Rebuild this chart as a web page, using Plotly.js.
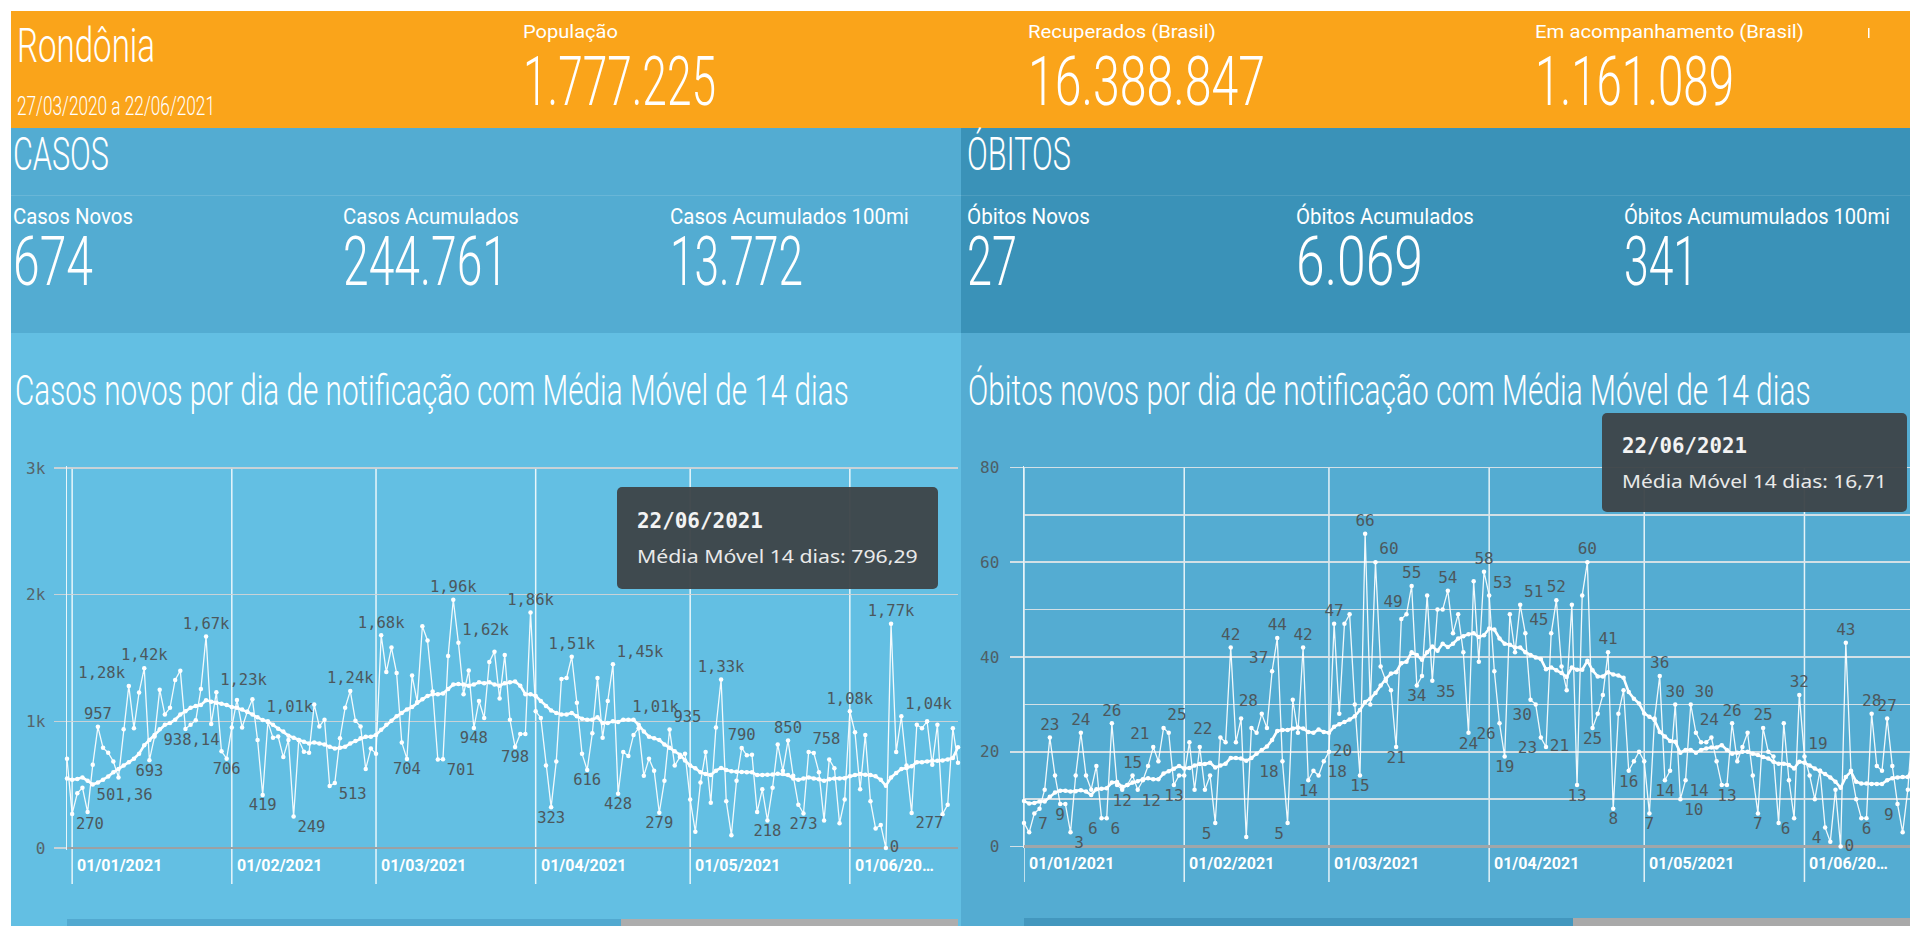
<!DOCTYPE html>
<html>
<head>
<meta charset="utf-8">
<script src="https://cdn.plot.ly/plotly-3.0.1.min.js"></script>
<style>
html,body{margin:0;padding:0;background:#ffffff;width:1910px;height:926px;overflow:hidden;position:relative;}
#bg,#ov{position:absolute;left:0;top:0;}
#bg{z-index:0;}
#ov{z-index:3;pointer-events:none;}
#casos{position:absolute;left:11px;top:333px;width:950px;height:593px;z-index:1;}
#obitos{position:absolute;left:961px;top:333px;width:949px;height:593px;z-index:1;overflow:hidden;}
</style>
</head>
<body>
<svg id="bg" width="1910" height="926"></svg>
<div id="casos"></div>
<div id="obitos"></div>
<svg id="ov" width="1910" height="926"></svg>
<script>
// ---------------- DATA ----------------
const regiao = 'Rondônia';
const periodo = '27/03/2020 a 22/06/2021';
const kpiTopoRotulos = ['População', 'Recuperados (Brasil)', 'Em acompanhamento (Brasil)'];
const kpiTopoValores = ['1.777.225', '16.388.847', '1.161.089'];
const kpiCasosRotulos = ['Casos Novos', 'Casos Acumulados', 'Casos Acumulados 100mi'];
const kpiCasosValores = ['674', '244.761', '13.772'];
const kpiObitosRotulos = ['Óbitos Novos', 'Óbitos Acumulados', 'Óbitos Acumumulados 100mi'];
const kpiObitosValores = ['27', '6.069', '341'];
const tituloCasos = 'Casos novos por dia de notificação com Média Móvel de 14 dias';
const tituloObitos = 'Óbitos novos por dia de notificação com Média Móvel de 14 dias';
const rotuloMedia = 'Média Móvel 14 dias';

const monthTicks = ['2021-01-01', '2021-02-01', '2021-03-01', '2021-04-01', '2021-05-01', '2021-06-01'];
const monthTickLabels = ['01/01/2021', '01/02/2021', '01/03/2021', '01/04/2021', '01/05/2021', '01/06/20…'];

const casosTickVals = [0, 1000, 2000, 3000];
const casosTickText = ['0', '1k', '2k', '3k'];

// Casos: daily values from 31/12/2020 to 22/06/2021
const casosInicio = '2020-12-31';
const casosNovos = [
  705, 270, 432, 477, 284, 657, 957, 791, 753, 684,
  558, 938, 1280, 946, 1228, 1420, 693, 880, 1250, 1054,
  1107, 1327, 1400, 940, 973, 1008, 1255, 1670, 979, 1230,
  764, 706, 952, 1169, 952, 1075, 1174, 853, 419, 995,
  870, 880, 718, 853, 249, 853, 760, 753, 1134, 960,
  1013, 490, 513, 866, 1107, 1240, 1005, 960, 625, 785,
  745, 1680, 1389, 1582, 1381, 834, 704, 1362, 1153, 1751,
  1638, 1236, 700, 701, 1515, 1960, 1620, 1214, 1402, 948,
  1161, 1027, 1469, 1550, 1180, 1523, 1013, 798, 901, 901,
  1860, 1080, 1027, 651, 323, 684, 1335, 1343, 1510, 1147,
  745, 616, 906, 1343, 871, 1161, 1450, 428, 759, 727,
  893, 946, 571, 705, 611, 279, 531, 935, 651, 718,
  745, 383, 129, 517, 759, 357, 952, 1330, 370, 102,
  531, 790, 732, 737, 284, 464, 218, 477, 818, 611,
  850, 571, 343, 273, 758, 751, 598, 217, 700, 630,
  196, 383, 1080, 914, 464, 893, 370, 155, 182, 0,
  1770, 759, 1040, 651, 277, 973, 946, 1000, 657, 973,
  268, 343, 946, 674
];
const casosMedia = [
  550, 539, 545, 558, 531, 501.36, 517, 539, 565, 598,
  625, 651, 678, 705, 745, 812, 853, 893, 938.14, 973,
  987, 1013, 1054, 1080, 1107, 1121, 1129, 1166, 1155, 1147,
  1139, 1129, 1113, 1107, 1094, 1075, 1054, 1032, 1010, 1000,
  973, 941, 920, 887, 871, 853, 839, 826, 834, 826,
  818, 799, 786, 791, 799, 826, 845, 866, 879, 879,
  893, 933, 973, 1005, 1040, 1067, 1094, 1113, 1147, 1174,
  1201, 1214, 1214, 1220, 1255, 1290, 1295, 1290, 1282, 1290,
  1308, 1300, 1308, 1290, 1282, 1300, 1308, 1314, 1282, 1214,
  1214, 1201, 1161, 1121, 1086, 1067, 1054, 1054, 1067, 1040,
  1021, 1013, 1013, 1032, 987, 987, 1000, 995, 1013, 1012,
  1013, 973, 920, 879, 866, 853, 818, 791, 764, 737,
  692, 651, 630, 598, 584, 576, 611, 633, 617, 606,
  603, 600, 598, 598, 576, 576, 579, 581, 587, 584,
  576, 550, 539, 550, 558, 550, 544, 531, 544, 550,
  550, 552, 566, 576, 584, 579, 576, 566, 539, 491,
  558, 592, 625, 633, 646, 678, 678, 684, 689, 689,
  692, 700, 710, 796.29
];
const casosRotuloIdx = [1, 6, 12, 15, 16, 27, 29, 31, 38, 44, 52, 55, 61, 66, 73, 75, 76, 79, 87, 90, 94, 98, 101, 106, 107, 115, 117, 127, 131, 136, 140, 143, 144, 152, 159, 160, 162, 164];
const casosMediaRotuloIdx = [5, 18, 38, 109];

// Óbitos: daily values from 01/01/2021 to 22/06/2021
const obitosInicio = '2021-01-01';
const obitosNovos = [
  5, 3, 7, 8, 12, 23, 15, 9, 9, 3,
  15, 24, 15, 12, 17, 6, 6, 26, 13, 12,
  13, 15, 12, 14, 17, 21, 18, 25, 24, 13,
  15, 15, 22, 12, 21, 12, 15, 5, 23, 22,
  42, 22, 27, 2, 25, 24, 28, 25, 37, 44,
  18, 5, 31, 24, 42, 14, 16, 15, 18, 20,
  47, 28, 47, 49, 30, 15, 66, 30, 60, 38,
  35, 33, 21, 48, 49, 55, 34, 36, 53, 35,
  50, 50, 54, 45, 49, 41, 24, 56, 39, 58,
  53, 37, 26, 19, 49, 41, 51, 45, 31, 30,
  23, 21, 45, 52, 38, 33, 51, 13, 53, 60,
  25, 28, 32, 41, 8, 28, 33, 16, 18, 20,
  18, 7, 27, 36, 14, 16, 30, 10, 14, 30,
  24, 22, 22, 23, 18, 13, 13, 26, 18, 21,
  24, 15, 7, 25, 20, 19, 5, 26, 14, 6,
  32, 19, 15, 10, 16, 4, 1, 12, 0, 43,
  16, 10, 6, 6, 28, 17, 16, 27, 17, 9,
  3, 12, 27
];
const obitosMedia = [
  9.6, 9.1, 9.2, 9.5, 9.5, 10.5, 11.4, 11.8, 11.8, 11.6,
  11.7, 11.9, 11.6, 10.9, 12.1, 12.2, 12.3, 13.5, 13.6, 12.6,
  13, 13.5, 13.8, 14.2, 14.4, 14.2, 14.2, 15.4, 15.9, 16.4,
  17, 16.5, 16.6, 17.1, 17.4, 17.4, 17.7, 16.7, 17.1, 17.5,
  18.7, 18.7, 18.6, 18.1, 18.7, 19.6, 20.4, 21.1, 22.5, 24.4,
  24.6, 24.6, 24.9, 25.1, 24.9, 24.2, 24, 24.7, 24.2, 24,
  25.3, 25.8, 26.3, 26.8, 27.5, 28.8, 30.5, 31.2, 32.4, 34,
  35.4, 36.5, 36.8, 38.7, 39, 41, 40.4, 39.4, 41, 42.2,
  41.3, 42.8, 42.1, 42.8, 43.9, 44.4, 44.8, 45, 44.2, 44.6,
  46, 45.8, 43.9, 42.8, 42.6, 42, 42, 41, 40.4, 39.9,
  39.6, 37.4, 37.8, 37.2, 36.6, 35.8, 37.8, 37.3, 37.3, 39.2,
  37.2, 35.9, 35.9, 36.8, 36.3, 36.1, 35.6, 32.6, 31.2, 30.2,
  28.1, 27.4, 26.7, 24.2, 23.2, 22.3, 22.1, 19.8, 20.4, 20.4,
  19.8, 20.4, 20.7, 20.9, 20.9, 21.4, 20.4, 19.6, 19.8, 20,
  20, 19.6, 19.3, 18.9, 18.6, 17.9, 17.5, 17.5, 17.2, 16.5,
  17.9, 17.7, 17.1, 16.5, 16, 15.3, 14.6, 13.7, 12.4, 14.7,
  15.8, 13.7, 13.3, 13.3, 13.2, 13.2, 13.2, 14, 14.4, 14.6,
  14.7, 14.7, 16.71
];
const obitosRotuloIdx = [2, 5, 7, 9, 11, 15, 16, 17, 19, 21, 22, 25, 27, 29, 32, 37, 40, 46, 48, 49, 50, 51, 54, 55, 58, 59, 60, 65, 66, 68, 72, 74, 75, 76, 79, 82, 86, 89, 90, 92, 93, 96, 97, 99, 100, 101, 103, 107, 109, 110, 113, 114, 117, 121, 123, 124, 126, 127, 128, 129, 130, 136, 137, 142, 143, 149, 150, 151, 155, 158, 159, 163, 164, 167, 169];

// label placement (style): overrides of the default above/below choice
const casosRotuloLado = {1: 'bottom right', 12: 'top left', 29: 'top right', 44: 'bottom right', 52: 'bottom right',
  73: 'bottom right', 76: 'top right', 106: 'top right', 117: 'top right', 144: 'top right', 159: 'middle right',
  162: 'top right', 164: 'bottom right'};
const obitosRotuloLado = {2: 'bottom right', 9: 'bottom right', 15: 'bottom left', 16: 'bottom right', 22: 'bottom right',
  25: 'top left', 27: 'top right', 32: 'top right', 37: 'bottom left', 46: 'top left', 48: 'top left', 50: 'bottom left',
  51: 'bottom left', 58: 'bottom right', 59: 'middle right', 68: 'top right', 74: 'top left', 79: 'bottom right',
  90: 'top right', 92: 'bottom left', 96: 'top right', 97: 'top right', 99: 'bottom left', 100: 'bottom left',
  101: 'middle right', 127: 'bottom right', 128: 'bottom right', 129: 'top right', 130: 'top right', 149: 'bottom left',
  151: 'top right', 155: 'bottom left', 158: 'middle right', 169: 'bottom left'};

// ---------------- HELPERS ----------------
function dayList(start, n) {
  const t0 = Date.parse(start + 'T00:00:00Z');
  const out = [];
  for (let i = 0; i < n; i++) out.push(new Date(t0 + i * 86400000).toISOString().slice(0, 10));
  return out;
}
function fmt(v) {
  if (v >= 1000) return (v / 1000).toFixed(2).replace('.', ',') + 'k';
  if (Number.isInteger(v)) return String(v);
  return v.toFixed(2).replace('.', ',');
}
function fmtDate(iso) {
  const p = iso.split('-');
  return p[2] + '/' + p[1] + '/' + p[0];
}
const NS = 'http://www.w3.org/2000/svg';
function el(svg, tag, attrs) {
  const e = document.createElementNS(NS, tag);
  for (const k in attrs) e.setAttribute(k, attrs[k]);
  svg.appendChild(e);
  return e;
}
// text squeezed horizontally (condensed look) to a target width with a transform
function txt(svg, str, x, y, size, width, opts) {
  opts = opts || {};
  const t = el(svg, 'text', {
    x: 0, y: 0, 'font-size': size,
    'font-family': opts.family || 'Roboto',
    'font-weight': opts.weight || 300,
    fill: opts.fill || '#ffffff'
  });
  t.textContent = str;
  const natural = t.getComputedTextLength() || width;
  const s = width ? width / natural : 1;
  t.setAttribute('transform', 'translate(' + x + ' ' + y + ') scale(' + s.toFixed(4) + ' 1)');
  return t;
}

// ---------------- DASHBOARD BACKGROUND + KPI TEXT ----------------
const bg = document.getElementById('bg');
el(bg, 'rect', {x: 11, y: 11, width: 1899, height: 117, fill: '#FAA41A'});
el(bg, 'rect', {x: 11, y: 128, width: 950, height: 205, fill: '#53ACD2'});
el(bg, 'rect', {x: 961, y: 128, width: 949, height: 205, fill: '#3A92B8'});
el(bg, 'rect', {x: 11, y: 195, width: 950, height: 1, fill: 'rgba(255,255,255,0.13)'});
el(bg, 'rect', {x: 961, y: 195, width: 949, height: 1, fill: 'rgba(255,255,255,0.10)'});
el(bg, 'rect', {x: 11, y: 333, width: 950, height: 593, fill: '#63BFE3'});
el(bg, 'rect', {x: 961, y: 333, width: 949, height: 593, fill: '#54ACD2'});
el(bg, 'rect', {x: 1868, y: 28, width: 1.5, height: 10, fill: '#ffffff'});

function drawHeader() {
  txt(bg, regiao, 17, 62, 49, 138);
  txt(bg, periodo, 17, 115, 25, 198);
  const topoX = [523, 1028, 1535];
  const topoWL = [95, 188, 269];
  const topoWV = [193, 237, 199];
  kpiTopoRotulos.forEach((r, i) => txt(bg, r, topoX[i], 38, 18.5, topoWL[i], {weight: 400}));
  kpiTopoValores.forEach((v, i) => txt(bg, v, topoX[i], 105, 68, topoWV[i]));

  txt(bg, 'CASOS', 13, 170, 46, 96);
  txt(bg, 'ÓBITOS', 967, 170, 46, 104);
  const casosX = [13, 343, 670], casosWL = [120, 176, 239], casosWV = [80, 165, 133];
  kpiCasosRotulos.forEach((r, i) => txt(bg, r, casosX[i], 224, 22, casosWL[i], {weight: 400}));
  kpiCasosValores.forEach((v, i) => txt(bg, v, casosX[i], 285, 68, casosWV[i]));
  const obX = [967, 1296, 1624], obWL = [123, 178, 266], obWV = [50, 127, 74];
  kpiObitosRotulos.forEach((r, i) => txt(bg, r, obX[i], 224, 22, obWL[i], {weight: 400}));
  kpiObitosValores.forEach((v, i) => txt(bg, v, obX[i], 285, 68, obWV[i]));
}

// ---------------- CHARTS ----------------
function buildTraces(dates, raw, ma, rawIdx, maIdx, lado, fontSize) {
  const font = {family: 'DejaVu Sans Mono', size: fontSize, color: '#4c585d'};
  const rawText = raw.map((v, i) => rawIdx.includes(i) ? fmt(v) : '');
  const rawPos = raw.map((v, i) => lado[i] || (v >= ma[i] ? 'top center' : 'bottom center'));
  const maText = ma.map((v, i) => maIdx.includes(i) ? fmt(v) : '');
  const maPos = ma.map((v, i) => raw[i] >= v ? 'bottom right' : 'top right');
  return [
    {
      type: 'scatter', mode: 'lines+markers+text', x: dates, y: raw,
      text: rawText, textposition: rawPos, textfont: font,
      line: {color: 'rgba(255,255,255,0.92)', width: 1.3},
      marker: {size: 4.5, color: '#ffffff'},
      cliponaxis: false, hoverinfo: 'skip', name: 'Novos'
    },
    {
      type: 'scatter', mode: 'lines+markers+text', x: dates, y: ma,
      text: maText, textposition: maPos, textfont: font,
      line: {color: '#ffffff', width: 2.6},
      marker: {size: 4.5, color: '#ffffff'},
      cliponaxis: false, hoverinfo: 'skip', name: rotuloMedia
    }
  ];
}

function monthShapes(plotH, topPaper) {
  return monthTicks.map(m => ({
    type: 'line', xref: 'x', yref: 'paper', x0: m, x1: m, y0: -34 / plotH, y1: topPaper,
    line: {color: 'rgba(255,255,255,0.85)', width: 1.5}, layer: 'below'
  }));
}
function monthLabels() {
  return monthTicks.map((m, i) => ({
    x: m, xref: 'x', y: 0, yref: 'paper', xanchor: 'left', yanchor: 'top',
    xshift: 3, yshift: -4, showarrow: false,
    text: '<b>' + monthTickLabels[i] + '</b>',
    font: {family: 'Roboto', size: 16, color: '#ffffff'}
  }));
}

const casosDates = dayList(casosInicio, casosNovos.length);
const obitosDates = dayList(obitosInicio, obitosNovos.length);

const gridC = 'rgba(206,211,214,0.95)';
const layoutCasos = {
  width: 950, height: 593,
  margin: {l: 56, r: 3, t: 133, b: 76},
  paper_bgcolor: '#63BFE3', plot_bgcolor: 'rgba(0,0,0,0)',
  showlegend: false,
  title: {
    text: tituloCasos, xref: 'container', x: 4 / 950, xanchor: 'left',
    yref: 'container', y: 1 - 72 / 593, yanchor: 'bottom',
    font: {family: 'Roboto', size: 42, color: '#ffffff', weight: 300}
  },
  xaxis: {type: 'date', range: [casosDates[0], casosDates[casosDates.length - 1]],
          showgrid: false, zeroline: false, showticklabels: false, ticks: '', showline: false, fixedrange: true},
  yaxis: {range: [-15, 3015], tickvals: casosTickVals, ticktext: casosTickText,
          showgrid: true, gridcolor: gridC, gridwidth: 1.5,
          zeroline: true, zerolinecolor: '#9ba1a4', zerolinewidth: 2.5,
          ticks: 'outside', ticklen: 12, tickwidth: 1.5, tickcolor: gridC, ticklabelstandoff: 5,
          tickfont: {family: 'DejaVu Sans Mono', size: 16, color: '#56646a'},
          showline: true, linecolor: 'rgba(255,255,255,0.85)', linewidth: 1.5, fixedrange: true},
  shapes: monthShapes(384, 3015 / 3030),
  annotations: monthLabels()
};

const gridO = 'rgba(222,228,231,0.92)';
const layoutObitos = {
  width: 957, height: 593,
  margin: {l: 63, r: 5, t: 133, b: 78},
  paper_bgcolor: '#54ACD2', plot_bgcolor: 'rgba(0,0,0,0)',
  showlegend: false,
  title: {
    text: tituloObitos, xref: 'container', x: 7 / 957, xanchor: 'left',
    yref: 'container', y: 1 - 72 / 593, yanchor: 'bottom',
    font: {family: 'Roboto', size: 42, color: '#ffffff', weight: 300}
  },
  xaxis: {type: 'date', range: [obitosDates[0], obitosDates[obitosDates.length - 1]],
          showgrid: false, zeroline: false, showticklabels: false, ticks: '', showline: false, fixedrange: true},
  yaxis: {range: [-0.3, 80.3], tick0: 0, dtick: 20,
          showgrid: true, gridcolor: gridO, gridwidth: 1.5,
          minor: {dtick: 10, tick0: 0, showgrid: true, gridcolor: gridO, gridwidth: 1.5, ticks: ''},
          zeroline: true, zerolinecolor: '#a0a6a9', zerolinewidth: 2.5,
          ticks: 'outside', ticklen: 13, tickwidth: 1.5, tickcolor: gridO, ticklabelstandoff: 7,
          tickfont: {family: 'DejaVu Sans Mono', size: 16, color: '#4e5e66'},
          showline: true, linecolor: 'rgba(255,255,255,0.85)', linewidth: 1.5, fixedrange: true},
  shapes: monthShapes(382, 80.3 / 80.6),
  annotations: monthLabels()
};

const cfg = {staticPlot: true, displayModeBar: false, responsive: false};

function squeezeTitle(gd, width) {
  const t = gd.querySelector('.gtitle');
  if (!t) return;
  const natural = t.getComputedTextLength();
  if (!natural) return;
  const x = parseFloat(t.getAttribute('x')) || 0;
  const y = parseFloat(t.getAttribute('y')) || 0;
  const s = width / natural;
  t.setAttribute('transform', 'translate(' + x + ' ' + y + ') scale(' + s.toFixed(4) + ' 1) translate(' + (-x) + ' ' + (-y) + ')');
}

// ---------------- OVERLAY: tooltips + scroll bars ----------------
const ov = document.getElementById('ov');
function drawOverlay() {
  el(ov, 'rect', {x: 67, y: 919, width: 554, height: 7, fill: '#52A9D0'});
  el(ov, 'rect', {x: 621, y: 919, width: 337, height: 7, fill: '#ADADAD'});
  el(ov, 'rect', {x: 1024, y: 918, width: 549, height: 8, fill: '#4397BE'});
  el(ov, 'rect', {x: 1573, y: 918, width: 337, height: 8, fill: '#A9A9A9'});

  function tooltip(x, y, w, h, dateStr, maVal, wDate, wLine, dy) {
    el(ov, 'rect', {x: x, y: y, width: w, height: h, rx: 5, ry: 5, fill: '#3D4549', 'fill-opacity': 0.96});
    txt(ov, dateStr, x + 20, y + 41 + dy, 20.5, wDate, {family: 'DejaVu Sans Mono', weight: 700, fill: '#f3f3f3'});
    txt(ov, rotuloMedia + ': ' + maVal, x + 20, y + 76 + dy, 19, wLine, {family: 'Noto Sans', weight: 400, fill: '#e9e9e9'});
  }
  tooltip(617, 487, 321, 102, fmtDate(casosDates[casosDates.length - 1]), fmt(casosMedia[casosMedia.length - 1]), 126, 281, 0);
  tooltip(1602, 413, 305, 99, fmtDate(obitosDates[obitosDates.length - 1]), fmt(obitosMedia[obitosMedia.length - 1]), 125, 265, -1);
}

function start() {
  drawHeader();
  Plotly.newPlot('casos', buildTraces(casosDates, casosNovos, casosMedia, casosRotuloIdx, casosMediaRotuloIdx, casosRotuloLado, 15.5), layoutCasos, cfg)
    .then(gd => squeezeTitle(gd, 834));
  Plotly.newPlot('obitos', buildTraces(obitosDates, obitosNovos, obitosMedia, obitosRotuloIdx, [], obitosRotuloLado, 16), layoutObitos, cfg)
    .then(gd => squeezeTitle(gd, 843));
  drawOverlay();
}
if (document.fonts && document.fonts.ready) document.fonts.ready.then(start); else start();
</script>
</body>
</html>
